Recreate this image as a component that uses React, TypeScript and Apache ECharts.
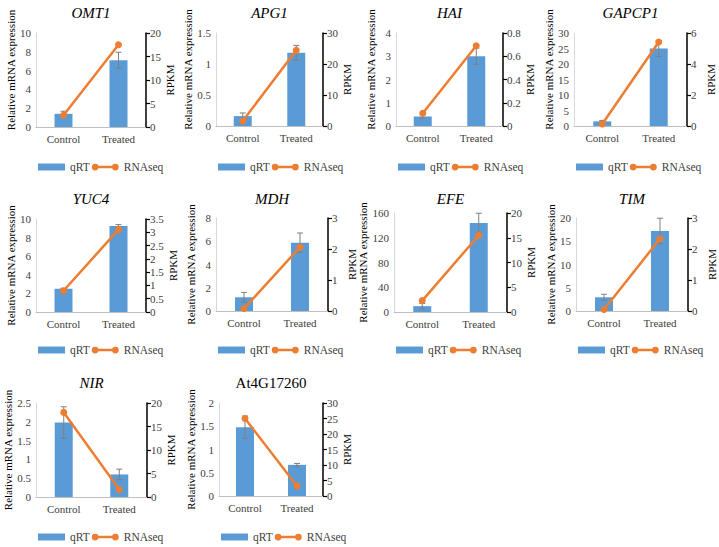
import React, { useEffect, useRef } from "react";
import * as echarts from "echarts";

const genes = ["OMT1", "APG1", "HAI", "GAPCP1", "YUC4", "MDH", "EFE", "TIM", "NIR", "At4G17260"];
const italicTitle = [true, true, true, true, true, true, true, true, true, false];
const categories = ["Control", "Treated"];
const qrtControl = [1.4, 0.16, 0.41, 1.5, 2.5, 1.18, 9.5, 2.95, 1.98, 1.48];
const qrtTreated = [7.1, 1.18, 3.0, 25, 9.25, 5.88, 144, 17.2, 0.6, 0.67];
const errControl = [0.28, 0.05, 0.07, 0.3, 0.05, 0.42, 4.3, 0.65, 0.42, 0.24];
const errTreated = [0.85, 0.12, 0.35, 2.6, 0.15, 0.83, 15.6, 2.75, 0.14, 0.03];
const rpkmControl = [2.5, 1.6, 0.11, 0.13, 0.8, 0.08, 2.3, 0.05, 18, 25];
const rpkmTreated = [17.5, 24.4, 0.69, 5.42, 3.1, 2.06, 15.5, 2.33, 1.6, 3.2];
const leftMax = [10, 1.5, 4, 30, 10, 8, 160, 20, 2.5, 2];
const leftInterval = [2, 0.5, 1, 5, 2, 2, 40, 5, 0.5, 0.5];
const rightMax = [20, 30, 0.8, 6, 3.5, 3, 20, 3, 20, 30];
const rightInterval = [5, 10, 0.2, 2, 0.5, 1, 5, 1, 5, 5];

// layout: [left, top, right, bottom] of each plot area
const plotBoxes = [
  [36, 33, 146, 127],
  [216, 33, 323, 126],
  [396, 33, 503, 126],
  [574, 33, 687, 126],
  [36, 219, 146, 312],
  [216, 218, 328, 311],
  [394, 213, 507, 312],
  [576, 218, 688, 311],
  [36, 403, 147, 497],
  [219, 403, 323, 496],
];
const titleY = [13, 199, 383];
const legendY = [163, 346, 533];

const FONT = "Liberation Serif";
const BLUE = "#5b9bd5";
const ORANGE = "#ed7d31";
const LABEL = "#404040";
const LINE_ICON =
  "path://M3.5,0 A3.5,3.5 0 1,1 3.5,7 A3.5,3.5 0 1,1 3.5,0 Z M24.5,0 A3.5,3.5 0 1,1 24.5,7 A3.5,3.5 0 1,1 24.5,0 Z M3.5,2.25 L24.5,2.25 L24.5,4.75 L3.5,4.75 Z";

export default function App() {
  const ref = useRef<HTMLDivElement>(null);
  useEffect(() => {
    document.body.style.margin = "0";
    if (!ref.current) return;
    const chart = echarts.init(ref.current, null, { renderer: "svg" });
    const grid: any[] = [];
    const xAxis: any[] = [];
    const yAxis: any[] = [];
    const series: any[] = [];
    const legend: any[] = [];
    const graphic: any[] = [];
    genes.forEach((g, i) => {
      const [l, t, r, b] = plotBoxes[i];
      const row = Math.floor(i / 4);
      grid.push({ left: l, top: t, width: r - l, height: b - t });
      xAxis.push({
        gridIndex: i,
        type: "category",
        data: categories,
        axisLine: { lineStyle: { color: "#bfbfbf", width: 1 } },
        axisTick: { show: false },
        axisLabel: { fontFamily: FONT, fontSize: 11, color: LABEL, margin: 6 },
      });
      yAxis.push({
        gridIndex: i,
        type: "value",
        position: "left",
        min: 0,
        max: leftMax[i],
        interval: leftInterval[i],
        axisLine: { show: true, lineStyle: { color: "#d9d9d9", width: 1 } },
        axisTick: { show: false },
        splitLine: { show: false },
        axisLabel: { fontFamily: FONT, fontSize: 11, color: LABEL, margin: 5 },
        name: "Relative mRNA expression",
        nameLocation: "middle",
        nameGap: 20,
        nameTextStyle: {
          fontFamily: FONT,
          fontSize: 11,
          color: "#000",
          padding: row === 0 ? [0, 0, 0, 20] : [0, 0, 0, 0],
        },
      });
      yAxis.push({
        gridIndex: i,
        type: "value",
        position: "right",
        min: 0,
        max: rightMax[i],
        interval: rightInterval[i],
        axisLine: { show: true, lineStyle: { color: "#000", width: 1.5 } },
        axisTick: { show: true, inside: false, length: 4, lineStyle: { color: "#000", width: 1.2 } },
        splitLine: { show: false },
        axisLabel: { fontFamily: FONT, fontSize: 11, color: LABEL, margin: 4 },
        name: "RPKM",
        nameLocation: "middle",
        nameGap: 18,
        nameTextStyle: { fontFamily: FONT, fontSize: 11, color: "#000" },
      });
      series.push({
        type: "bar",
        name: "qRT",
        xAxisIndex: i,
        yAxisIndex: 2 * i,
        data: [qrtControl[i], qrtTreated[i]],
        barWidth: 18,
        itemStyle: { color: BLUE },
        z: 2,
      });
      series.push({
        type: "custom",
        name: "err",
        xAxisIndex: i,
        yAxisIndex: 2 * i,
        z: 3,
        silent: true,
        data: categories.map((c, j) => [j, j === 0 ? qrtControl[i] : qrtTreated[i], j === 0 ? errControl[i] : errTreated[i]]),
        encode: { x: 0, y: 1 },
        renderItem: (params: any, api: any) => {
          const x = api.value(0);
          const m = api.value(1);
          const e = api.value(2);
          const top = api.coord([x, m + e]);
          const bot = api.coord([x, m - e]);
          const hw = 3;
          const st = { stroke: "#7f7f7f", lineWidth: 1 };
          return {
            type: "group",
            children: [
              { type: "line", shape: { x1: top[0], y1: top[1], x2: bot[0], y2: bot[1] }, style: st },
              { type: "line", shape: { x1: top[0] - hw, y1: top[1], x2: top[0] + hw, y2: top[1] }, style: st },
              { type: "line", shape: { x1: bot[0] - hw, y1: bot[1], x2: bot[0] + hw, y2: bot[1] }, style: st },
            ],
          };
        },
      });
      series.push({
        type: "line",
        name: "RNAseq",
        xAxisIndex: i,
        yAxisIndex: 2 * i + 1,
        data: [rpkmControl[i], rpkmTreated[i]],
        symbol: "circle",
        symbolSize: 7,
        lineStyle: { width: 2.5, color: ORANGE },
        itemStyle: { color: ORANGE },
        z: 4,
      });
      legend.push({
        left: l - 3,
        top: legendY[row] - 7,
        itemWidth: 27,
        itemHeight: 7,
        itemGap: 2,
        selectedMode: false,
        data: [
          { name: "qRT", icon: "rect" },
          { name: "RNAseq", icon: LINE_ICON },
        ],
        textStyle: { fontFamily: FONT, fontSize: 11.5, color: LABEL },
      });
      graphic.push({
        type: "text",
        x: (l + r) / 2,
        y: titleY[row],
        style: {
          text: g,
          fontFamily: FONT,
          fontSize: 15,
          fontStyle: italicTitle[i] ? "italic" : "normal",
          fill: "#000",
          align: "center",
          verticalAlign: "middle",
        },
      });
    });
    chart.setOption({
      animation: false,
      backgroundColor: "#fff",
      grid,
      xAxis,
      yAxis,
      series,
      legend,
      graphic,
    });
    return () => chart.dispose();
  }, []);
  return <div ref={ref} style={{ width: 719, height: 547 }} />;
}
